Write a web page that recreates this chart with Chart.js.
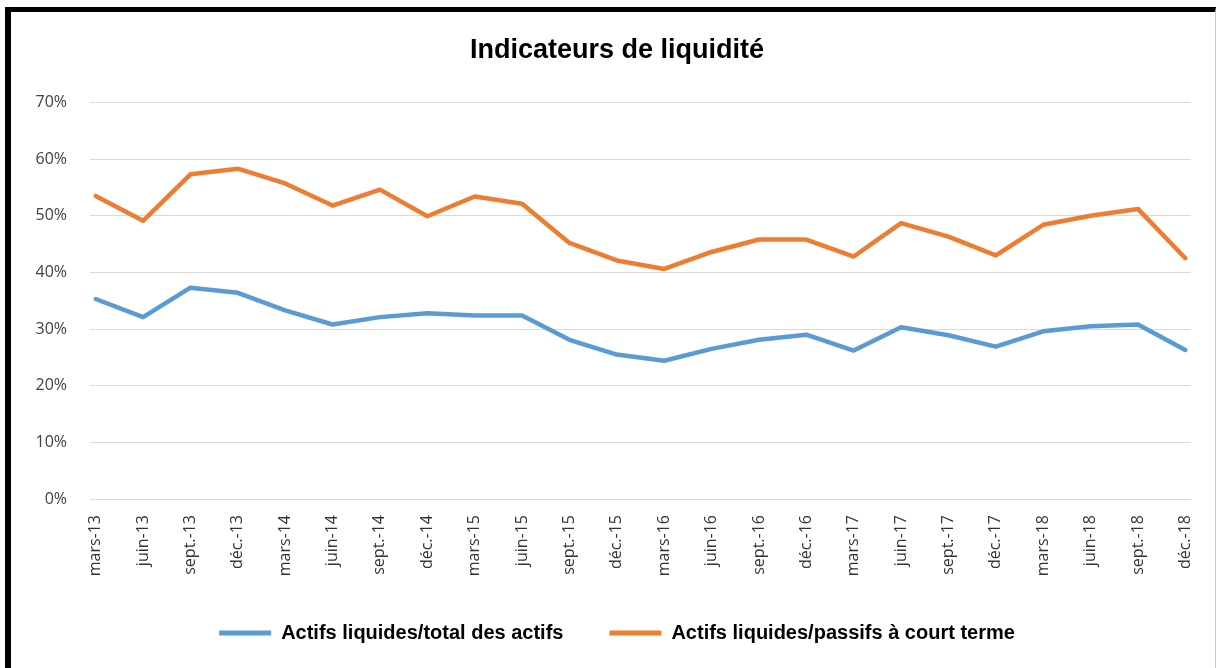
<!DOCTYPE html>
<html>
<head>
<meta charset="utf-8">
<script src="https://cdn.jsdelivr.net/npm/chart.js@4.4.1/dist/chart.umd.min.js"></script>
<style>
  html, body { margin: 0; padding: 0; background: #fff; }
  #wrap { position: relative; width: 1217px; height: 668px; overflow: hidden; }
  #frame { position: absolute; left: 5px; top: 7px; width: 1204px; height: 700px;
           border-left: 6px solid #000; border-top: 5px solid #000; border-right: 1px solid #c8c8c8; }
  canvas { position: absolute; left: 0; top: 0; }
</style>
</head>
<body>
<div id="wrap">
  <div id="frame"></div>
  <canvas id="c" width="1217" height="668"></canvas>
</div>
<script>
const categories = ["mars-13","juin-13","sept.-13","déc.-13","mars-14","juin-14","sept.-14","déc.-14",
  "mars-15","juin-15","sept.-15","déc.-15","mars-16","juin-16","sept.-16","déc.-16",
  "mars-17","juin-17","sept.-17","déc.-17","mars-18","juin-18","sept.-18","déc.-18"];
const seriesNames = ["Actifs liquides/total des actifs", "Actifs liquides/passifs à court terme"];
const actifsTotal = [35.3, 32.1, 37.3, 36.4, 33.3, 30.8, 32.1, 32.8, 32.4, 32.4, 28.1, 25.5,
  24.4, 26.5, 28.1, 29.0, 26.2, 30.3, 28.9, 26.9, 29.6, 30.5, 30.8, 26.3];
const actifsPassifs = [53.5, 49.1, 57.3, 58.3, 55.7, 51.8, 54.6, 49.9, 53.4, 52.1, 45.2, 42.1,
  40.6, 43.6, 45.8, 45.8, 42.8, 48.7, 46.3, 43.0, 48.4, 50.0, 51.2, 42.5];
const yTicks = [0, 10, 20, 30, 40, 50, 60, 70];
const titleText = "Indicateurs de liquidité";

const toXY = arr => arr.map((v, i) => ({ x: i, y: v }));

new Chart(document.getElementById('c'), {
  type: 'line',
  data: {
    datasets: [
      { label: seriesNames[0], data: toXY(actifsTotal), borderColor: '#5B9BD5', backgroundColor: '#5B9BD5',
        borderWidth: 4.5, pointRadius: 0, tension: 0, borderJoinStyle: 'round', borderCapStyle: 'round' },
      { label: seriesNames[1], data: toXY(actifsPassifs), borderColor: '#ED7D31', backgroundColor: '#ED7D31',
        borderWidth: 4.5, pointRadius: 0, tension: 0, borderJoinStyle: 'round', borderCapStyle: 'round' }
    ]
  },
  options: {
    responsive: false,
    animation: false,
    layout: { padding: { left: 30, right: 13, top: 0, bottom: 15 } },
    plugins: {
      tooltip: { enabled: false },
      title: {
        display: true, text: titleText, color: '#000',
        font: { family: '"Liberation Sans", Arial, sans-serif', size: 27, weight: 'bold' },
        padding: { top: 34, bottom: 36 }
      },
      legend: {
        position: 'bottom',
        labels: {
          color: '#000',
          font: { family: '"Liberation Sans", Arial, sans-serif', size: 20, weight: 'bold' },
          boxWidth: 52, boxHeight: 5, padding: 46,
          generateLabels: (chart) => Chart.defaults.plugins.legend.labels.generateLabels(chart)
            .map(l => Object.assign(l, { lineWidth: 0 }))
        }
      }
    },
    scales: {
      x: {
        type: 'linear', min: -0.12, max: 23.12,
        afterBuildTicks: (s) => { s.ticks = categories.map((_, i) => ({ value: i })); },
        afterFit: (s) => { s.height = 78; },
        grid: { display: false }, border: { display: false },
        ticks: {
          autoSkip: false, minRotation: 90, maxRotation: 90, padding: 8, color: '#333',
          font: { family: '"Open Sans", sans-serif', size: 16 },
          callback: (v) => categories[v] ?? ''
        }
      },
      y: {
        min: 0, max: 70,
        afterBuildTicks: (s) => { s.ticks = yTicks.map(v => ({ value: v })); },
        afterFit: (s) => { s.width = 60; },
        grid: { color: '#D9D9D9', lineWidth: 1, drawTicks: false }, border: { display: false },
        ticks: {
          padding: 23, color: '#404040',
          font: { family: '"Open Sans", sans-serif', size: 16 },
          callback: (v) => v + '%'
        }
      },
      y2: {
        position: 'right', display: true,
        afterFit: (s) => { s.width = 13; },
        grid: { display: false }, border: { display: false },
        ticks: { display: false }
      }
    }
  }
});
</script>
</body>
</html>
